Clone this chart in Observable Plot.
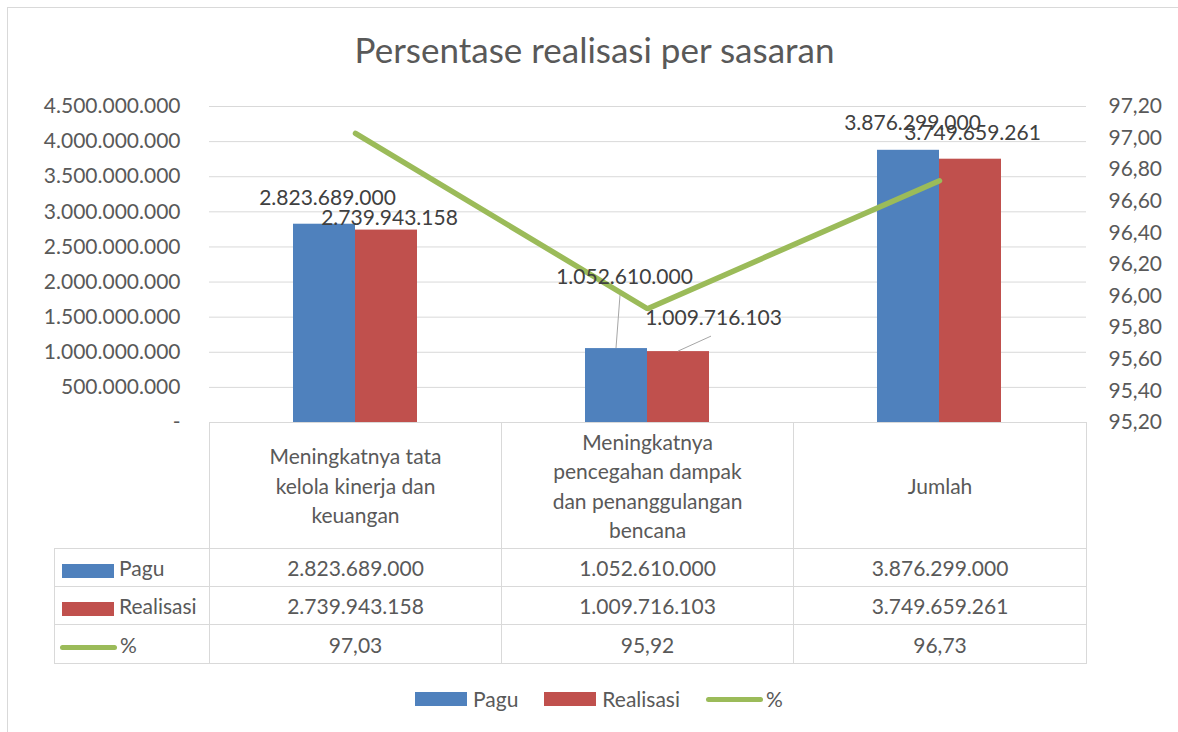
<!DOCTYPE html>
<html>
<head>
<meta charset="utf-8">
<script src="https://cdn.jsdelivr.net/npm/d3@7"></script>
<script src="https://cdn.jsdelivr.net/npm/@observablehq/plot@0.6"></script>
<style>
  body { margin: 0; background: #fff; font-family: Lato, "Open Sans", sans-serif; }
  #wrap { position: relative; width: 1178px; height: 732px; overflow: hidden; background: #fff; }
  #frame { position: absolute; left: 7px; top: 7px; width: 1220px; height: 780px; border: 1px solid #d9d9d9; box-sizing: border-box; }
  #title { position: absolute; left: 0; top: 32px; width: 1189px; text-align: center; font-size: 35px; line-height: 35px; color: #595959; }
  #chart { position: absolute; left: 0; top: 0; }
  #tbl { position: absolute; left: 54px; top: 422px; border-collapse: collapse; table-layout: fixed; font-size: 21px; color: #595959; }
  #tbl td { border: 1px solid #d9d9d9; text-align: center; padding: 0; white-space: nowrap; }
  #tbl td.hdr { color: #595959; white-space: pre-line; line-height: 29.5px; }
  #tbl td.blank { border-top: none; border-left: none; }
  #tbl td.name { text-align: left; color: #595959; }
  .sw { display: inline-block; vertical-align: middle; margin-left: 7px; margin-right: 5px; width: 52px; height: 14px; }
  .ln { display: inline-block; vertical-align: middle; margin-left: 5px; margin-right: 3px; width: 57px; height: 5px; border-radius: 3px; }
  #legend { position: absolute; left: 415px; top: 686px; display: flex; align-items: center; font-size: 21px; color: #595959; line-height: 26px; }
  #legend .item { display: flex; align-items: center; margin-right: 26px; }
  #legend .sw { margin: 0 6px 0 0; }
  #legend .ln { margin: 0 3px 0 0; }
</style>
</head>
<body>
<div id="wrap">
  <div id="frame"></div>
  <div id="title">Persentase realisasi per sasaran</div>
  <div id="chart"></div>
  <table id="tbl"></table>
  <div id="legend"></div>
</div>
<script>
// ---- data ----
const categories = [
  "Meningkatnya tata\nkelola kinerja dan\nkeuangan",
  "Meningkatnya\npencegahan dampak\ndan penanggulangan\nbencana",
  "Jumlah"
];
const seriesNames = ["Pagu", "Realisasi", "%"];
const pagu = [2823689000, 1052610000, 3876299000];
const realisasi = [2739943158, 1009716103, 3749659261];
const persen = [97.03, 95.92, 96.73];
const leftTicks = [0, 500000000, 1000000000, 1500000000, 2000000000, 2500000000, 3000000000, 3500000000, 4000000000, 4500000000];
const rightTicks = [95.2, 95.4, 95.6, 95.8, 96.0, 96.2, 96.4, 96.6, 96.8, 97.0, 97.2];

// ---- styles ----
const colors = { Pagu: "#4f81bd", Realisasi: "#c0504d", "%": "#9bbb59" };
// label nudges in pixels (dx, dy from bar top centre)
const paguLabelNudge = [[3, -26], [8, -71], [4, -27]];
const realLabelNudge = [[3, -12], [35, -33], [2, -26]];

// ---- helpers ----
const fmtNum = v => v === 0 ? "-" : String(Math.round(v)).replace(/\B(?=(\d{3})+(?!\d))/g, ".");
const fmtPct = v => v.toFixed(2).replace(".", ",");
const yMax = leftTicks[leftTicks.length - 1];
const pMin = rightTicks[0], pMax = rightTicks[rightTicks.length - 1];
const pctToY = p => (p - pMin) / (pMax - pMin) * yMax;
const yToPct = v => v / yMax * (pMax - pMin) + pMin;

const rows = categories.map((c, i) => ({ cat: c, pagu: pagu[i], real: realisasi[i], pct: persen[i], i }));

const bandInner = 0.575;
const halfBar = 62;

function leaderMark(index, scales) {
  const x = scales.x, y = scales.y;
  const bw = x.bandwidth ? x.bandwidth() : 124;
  const g = d3.create("svg:g").attr("stroke", "#a6a6a6").attr("stroke-width", 1).attr("fill", "none");
  // only the middle category's labels are detached with leader lines
  const r = rows[1];
  const px = x(r.cat) + bw / 4, py = y(r.pagu);
  g.append("line").attr("x1", px).attr("y1", py).attr("x2", px + paguLabelNudge[1][0] - 4).attr("y2", py + paguLabelNudge[1][1] + 18);
  const rx = x(r.cat) + 3 * bw / 4, ry = y(r.real);
  g.append("line").attr("x1", rx).attr("y1", ry).attr("x2", rx + realLabelNudge[1][0] - 2).attr("y2", ry + realLabelNudge[1][1] + 18);
  return g.node();
}

const labelMarks = [];
rows.forEach((r, i) => {
  labelMarks.push(Plot.text([r], {
    x: "cat", y: "pagu", text: d => fmtNum(d.pagu),
    dx: -halfBar / 2 + paguLabelNudge[i][0], dy: paguLabelNudge[i][1],
    fill: "#404040", fontSize: 21
  }));
  labelMarks.push(Plot.text([r], {
    x: "cat", y: "real", text: d => fmtNum(d.real),
    dx: halfBar / 2 + realLabelNudge[i][0], dy: realLabelNudge[i][1],
    fill: "#404040", fontSize: 21
  }));
});

const chart = Plot.plot({
  width: 1178,
  height: 424,
  marginLeft: 209,
  marginRight: 92,
  marginTop: 106,
  marginBottom: 2,
  style: { fontFamily: "Lato, 'Open Sans', sans-serif", fontSize: "21px", color: "#595959", background: "transparent", overflow: "visible" },
  x: { type: "band", domain: categories, paddingInner: bandInner, paddingOuter: bandInner / 2, axis: null },
  y: { domain: [0, yMax], axis: null },
  marks: [
    Plot.gridY(leftTicks, { stroke: "#d9d9d9", strokeOpacity: 1, strokeWidth: 1 }),
    Plot.axisY({ ticks: leftTicks, tickFormat: fmtNum, tickSize: 0, tickPadding: 29, fontSize: 21, fill: "#595959", label: null }),
    Plot.axisY({ anchor: "right", ticks: rightTicks.map(pctToY), tickFormat: v => fmtPct(yToPct(v)), tickSize: 0, tickPadding: 22, fontSize: 21, fill: "#595959", label: null }),
    Plot.barY(rows, { x: "cat", y: "pagu", fill: colors.Pagu, insetRight: halfBar }),
    Plot.barY(rows, { x: "cat", y: "real", fill: colors.Realisasi, insetLeft: halfBar }),
    leaderMark,
    Plot.line(rows, { x: "cat", y: d => pctToY(d.pct), stroke: colors["%"], strokeWidth: 5.5, strokeLinecap: "round", strokeLinejoin: "miter" }),
    ...labelMarks
  ]
});
document.getElementById("chart").appendChild(chart);

// ---- data table ----
const tbl = d3.select("#tbl");
const cg = tbl.append("colgroup");
[155, 292, 292, 293].forEach(w => cg.append("col").style("width", w + "px"));
const hr = tbl.append("tr").style("height", "126px");
hr.append("td").attr("class", "blank");
categories.forEach(c => hr.append("td").attr("class", "hdr").text(c));
const tableRows = [
  { name: "Pagu", vals: pagu.map(fmtNum), kind: "sw", h: 38 },
  { name: "Realisasi", vals: realisasi.map(fmtNum), kind: "sw", h: 38 },
  { name: "%", vals: persen.map(fmtPct), kind: "ln", h: 39 }
];
tableRows.forEach(r => {
  const tr = tbl.append("tr").style("height", r.h + "px");
  const nc = tr.append("td").attr("class", "name");
  nc.append("span").attr("class", r.kind).style("background", colors[r.name]);
  nc.append("span").text(r.name);
  r.vals.forEach(v => tr.append("td").text(v));
});

// ---- legend ----
const lg = d3.select("#legend");
seriesNames.forEach(n => {
  const it = lg.append("div").attr("class", "item");
  it.append("span").attr("class", n === "%" ? "ln" : "sw").style("background", colors[n]);
  it.append("span").text(n);
});
</script>
</body>
</html>
